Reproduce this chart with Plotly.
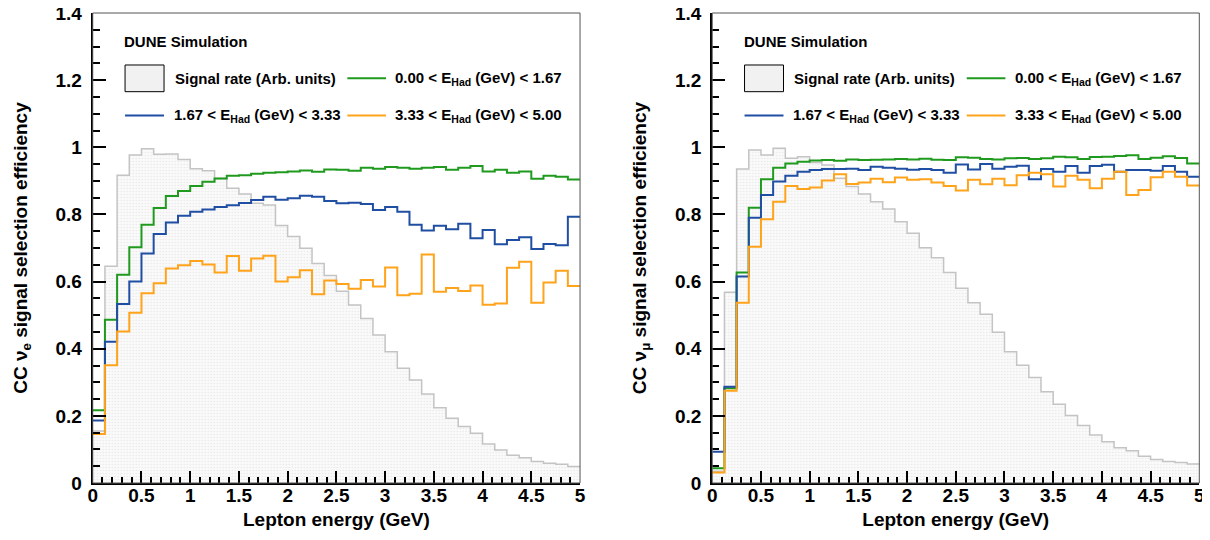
import numpy as np
import plotly.graph_objects as go

# lepton energy bins, 40 bins of 0.125 GeV from 0 to 5 GeV
bin_edges = np.arange(41) * 0.125

# CC nu_e panel
nue_signal = [0.155, 0.646, 0.917, 0.977, 0.996, 0.979, 0.980, 0.964, 0.936, 0.930,
              0.907, 0.878, 0.861, 0.833, 0.828, 0.767, 0.734, 0.699, 0.654, 0.618,
              0.571, 0.530, 0.490, 0.441, 0.391, 0.342, 0.307, 0.265, 0.224, 0.193,
              0.168, 0.148, 0.116, 0.098, 0.083, 0.075, 0.064, 0.059, 0.056, 0.049]
nue_had_low = [0.217, 0.486, 0.620, 0.702, 0.769, 0.819, 0.855, 0.870, 0.885, 0.897,
               0.907, 0.915, 0.917, 0.921, 0.924, 0.926, 0.928, 0.931, 0.927, 0.934,
               0.933, 0.930, 0.939, 0.936, 0.941, 0.939, 0.936, 0.939, 0.941, 0.933,
               0.939, 0.944, 0.928, 0.933, 0.924, 0.928, 0.906, 0.915, 0.912, 0.904]
nue_had_mid = [0.186, 0.421, 0.533, 0.600, 0.684, 0.742, 0.776, 0.796, 0.808, 0.815,
               0.822, 0.827, 0.834, 0.843, 0.853, 0.844, 0.848, 0.856, 0.853, 0.840,
               0.833, 0.835, 0.831, 0.813, 0.822, 0.808, 0.769, 0.752, 0.766, 0.756,
               0.772, 0.729, 0.754, 0.711, 0.724, 0.732, 0.697, 0.712, 0.708, 0.793]
nue_had_high = [0.146, 0.351, 0.451, 0.507, 0.565, 0.595, 0.639, 0.649, 0.661, 0.651,
                0.627, 0.676, 0.632, 0.669, 0.677, 0.600, 0.613, 0.634, 0.562, 0.603,
                0.593, 0.579, 0.605, 0.585, 0.642, 0.559, 0.564, 0.681, 0.570, 0.581,
                0.572, 0.588, 0.531, 0.535, 0.641, 0.659, 0.537, 0.597, 0.632, 0.587]

# CC nu_mu panel
numu_signal = [0.035, 0.568, 0.935, 0.992, 0.977, 0.997, 0.967, 0.972, 0.955, 0.947,
               0.908, 0.883, 0.861, 0.838, 0.816, 0.778, 0.744, 0.701, 0.671, 0.627,
               0.580, 0.537, 0.503, 0.449, 0.391, 0.351, 0.314, 0.272, 0.235, 0.201,
               0.171, 0.143, 0.123, 0.105, 0.096, 0.080, 0.070, 0.064, 0.061, 0.057]
numu_had_low = [0.044, 0.282, 0.627, 0.820, 0.905, 0.939, 0.952, 0.957, 0.961, 0.962,
                0.960, 0.964, 0.962, 0.963, 0.964, 0.965, 0.964, 0.966, 0.963, 0.962,
                0.970, 0.969, 0.965, 0.964, 0.967, 0.968, 0.965, 0.967, 0.972, 0.970,
                0.965, 0.971, 0.972, 0.974, 0.976, 0.965, 0.969, 0.973, 0.968, 0.952]
numu_had_mid = [0.093, 0.287, 0.615, 0.790, 0.858, 0.898, 0.915, 0.927, 0.932, 0.935,
                0.935, 0.936, 0.932, 0.942, 0.939, 0.936, 0.933, 0.935, 0.932, 0.924,
                0.949, 0.934, 0.950, 0.936, 0.942, 0.945, 0.905, 0.935, 0.927, 0.944,
                0.924, 0.944, 0.948, 0.927, 0.932, 0.932, 0.930, 0.944, 0.927, 0.912]
numu_had_high = [0.031, 0.275, 0.537, 0.704, 0.786, 0.838, 0.885, 0.876, 0.880, 0.901,
                 0.920, 0.891, 0.895, 0.906, 0.896, 0.910, 0.903, 0.905, 0.895, 0.885,
                 0.871, 0.903, 0.890, 0.906, 0.887, 0.917, 0.924, 0.920, 0.883, 0.915,
                 0.903, 0.878, 0.906, 0.927, 0.858, 0.873, 0.911, 0.927, 0.912, 0.886]

legend_labels = ["Signal rate (Arb. units)",
                 "0.00 < E<sub>Had</sub> (GeV) < 1.67",
                 "1.67 < E<sub>Had</sub> (GeV) < 3.33",
                 "3.33 < E<sub>Had</sub> (GeV) < 5.00"]

GREEN = "#1f9a1f"
BLUE = "#1f4ea3"
ORANGE = "#ffa31a"
GRAY = "#c4c4c4"
FONT = "Liberation Sans"


def step(values):
    # repeat last value so the final bin is drawn up to 5 GeV
    return list(bin_edges), list(values) + [values[-1]]


fig = go.Figure()

panels = [
    ("x", "y", nue_signal, nue_had_low, nue_had_mid, nue_had_high),
    ("x2", "y2", numu_signal, numu_had_low, numu_had_mid, numu_had_high),
]
for xa, ya, sig, low, mid, high in panels:
    x, y = step(sig)
    fig.add_trace(go.Scatter(
        x=x, y=y, xaxis=xa, yaxis=ya, mode="lines", line_shape="hv",
        line=dict(color=GRAY, width=1.5), fill="tozeroy",
        fillpattern=dict(shape=".", fgcolor="#d4d4d4", bgcolor="#fafafa", size=3, solidity=0.2),
        showlegend=False, name=legend_labels[0],
    ))
    for vals, col, lab in [(low, GREEN, legend_labels[1]), (mid, BLUE, legend_labels[2]), (high, ORANGE, legend_labels[3])]:
        x, y = step(vals)
        fig.add_trace(go.Scatter(
            x=x, y=y, xaxis=xa, yaxis=ya, mode="lines", line_shape="hv",
            line=dict(color=col, width=2), showlegend=False, name=lab,
        ))

tick_font = dict(family=FONT, size=19, color="black", weight="bold")
title_font = dict(family=FONT, size=19, color="black", weight="bold")

xaxis_common = dict(
    range=[0, 5], dtick=0.5, tick0=0, ticks="inside", ticklen=12, tickwidth=2, tickcolor="black",
    minor=dict(ticks="inside", dtick=0.1, ticklen=6, tickwidth=2, tickcolor="black"),
    showline=True, linecolor="black", linewidth=2, showgrid=False, zeroline=False,
    tickfont=tick_font, ticklabelstandoff=-6, automargin=False, ticklabeloverflow="allow",
    title=dict(text="Lepton energy (GeV)", font=title_font, standoff=8),
)
yaxis_common = dict(
    range=[0, 1.4], dtick=0.2, tick0=0, ticks="inside", ticklen=13, tickwidth=2, tickcolor="black",
    minor=dict(ticks="inside", dtick=0.05, ticklen=7, tickwidth=2, tickcolor="black"),
    showline=True, linecolor="black", linewidth=2, showgrid=False, zeroline=False,
    tickfont=tick_font, ticklabelstandoff=5, automargin=False, ticklabeloverflow="allow",
)

# page has an 8px body margin, so the figure is 1202x532
fig.update_layout(
    width=1202, height=532,
    margin=dict(l=0, r=0, t=0, b=0),
    paper_bgcolor="white", plot_bgcolor="white",
    font=dict(family=FONT, color="black"),
    xaxis=dict(domain=[0.0705, 0.4759], anchor="y", **xaxis_common),
    yaxis=dict(domain=[0.1071, 0.9906], anchor="x",
               title=dict(text="CC \u03bd<sub>e</sub> signal selection efficiency", font=title_font, standoff=23),
               **yaxis_common),
    xaxis2=dict(domain=[0.5859, 0.9911], anchor="y2", **xaxis_common),
    yaxis2=dict(domain=[0.1071, 0.9906], anchor="x2",
                title=dict(text="CC \u03bd<sub>\u03bc</sub> signal selection efficiency", font=title_font, standoff=23),
                **yaxis_common),
)

# frame and legend boxes drawn per panel in axis-domain coordinates
leg_font = dict(family=FONT, size=15, color="black", weight="bold")
row1, row2 = 0.861, 0.782
for xa, ya in [("x", "y"), ("x2", "y2")]:
    xr, yr = xa + " domain", ya + " domain"
    fig.add_shape(type="rect", xref=xr, yref=yr, x0=0, x1=1, y0=0, y1=1,
                  line=dict(color="#555555", width=1), layer="above")
    fig.add_shape(type="rect", xref=xr, yref=yr, x0=0.0663, x1=0.1463, y0=0.8326, y1=0.8894,
                  line=dict(color="black", width=1), fillcolor="#f1f1f1")
    fig.add_shape(type="line", xref=xr, yref=yr, x0=0.5225, x1=0.6019, y0=row1, y1=row1,
                  line=dict(color=GREEN, width=2))
    fig.add_shape(type="line", xref=xr, yref=yr, x0=0.0663, x1=0.1463, y0=row2, y1=row2,
                  line=dict(color=BLUE, width=2))
    fig.add_shape(type="line", xref=xr, yref=yr, x0=0.5225, x1=0.6019, y0=row2, y1=row2,
                  line=dict(color=ORANGE, width=2))
    fig.add_annotation(text="DUNE Simulation", xref=xr, yref=yr, x=0.0607, y=0.9404,
                       xanchor="left", yanchor="middle", showarrow=False, font=leg_font)
    for text, xx, yy in [(legend_labels[0], 0.1642, row1), (legend_labels[1], 0.6169, row1),
                         (legend_labels[2], 0.1621, row2), (legend_labels[3], 0.6169, row2)]:
        fig.add_annotation(text=text, xref=xr, yref=yr, x=xx, y=yy,
                           xanchor="left", yanchor="middle", showarrow=False, font=leg_font)

fig.write_html("out.html")
